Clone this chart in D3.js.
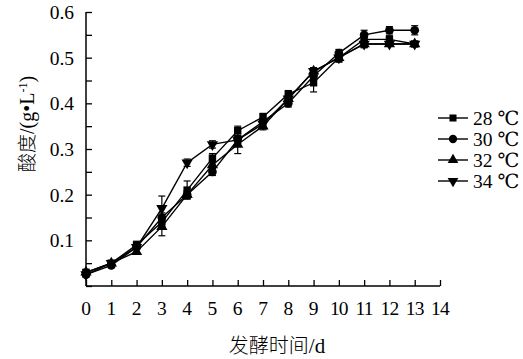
<!DOCTYPE html>
<html><head><meta charset="utf-8">
<script src="https://cdn.jsdelivr.net/npm/d3@7"></script>
<style>body{margin:0;background:#fff}svg{display:block}</style>
</head><body>
<svg id="c" width="523" height="359"></svg>
<script>
const days = [0,1,2,3,4,5,6,7,8,9,10,11,12,13];
const xTicks = [0,1,2,3,4,5,6,7,8,9,10,11,12,13,14];
const yTickLabels = [0.1,0.2,0.3,0.4,0.5,0.6];
const seriesNames = ["28 ℃","30 ℃","32 ℃","34 ℃"];
const t28 = [0.030,0.050,0.090,0.140,0.210,0.280,0.340,0.370,0.420,0.445,0.500,0.540,0.540,0.530];
const t30 = [0.025,0.045,0.085,0.150,0.200,0.250,0.320,0.360,0.400,0.460,0.510,0.550,0.560,0.560];
const t32 = [0.030,0.050,0.075,0.130,0.200,0.265,0.310,0.350,0.410,0.470,0.500,0.530,0.530,0.530];
const t34 = [0.025,0.050,0.085,0.170,0.270,0.310,0.320,0.355,0.410,0.470,0.500,0.530,0.530,0.530];
const e28 = [0.005,0.005,0.008,0.010,0.020,0.010,0.010,0.008,0.008,0.020,0.010,0.008,0.008,0.005];
const e30 = [0.005,0.005,0.005,0.010,0.008,0.008,0.008,0.008,0.008,0.010,0.008,0.010,0.008,0.010];
const e32 = [0.005,0.005,0.005,0.020,0.008,0.008,0.020,0.008,0.008,0.008,0.008,0.008,0.005,0.005];
const e34 = [0.005,0.005,0.005,0.027,0.008,0.008,0.008,0.008,0.008,0.008,0.008,0.008,0.005,0.005];

const series = [
  {name:seriesNames[0], v:t28, e:e28, sym:d3.symbolSquare, rot:0, size:55},
  {name:seriesNames[1], v:t30, e:e30, sym:d3.symbolCircle, rot:0, size:60},
  {name:seriesNames[2], v:t32, e:e32, sym:d3.symbolTriangle, rot:0, size:55},
  {name:seriesNames[3], v:t34, e:e34, sym:d3.symbolTriangle, rot:180, size:55}
];

const svg = d3.select("#c");
const x = d3.scaleLinear().domain([0,14]).range([86,440]);
const y = d3.scaleLinear().domain([0,0.6]).range([286,12]);
const serif = "Liberation Serif, Times New Roman, DejaVu Serif, serif";
const cjk = "Noto Sans CJK SC, sans-serif";
const fs = 19.5;

// axes
const yAxis = svg.append("g").attr("transform","translate(86,0)")
  .call(d3.axisRight(y).tickValues(d3.range(0,0.6001,0.05)).tickSize(6).tickFormat(""));
yAxis.select(".domain").attr("d","M0,286V12").attr("stroke","#000").attr("stroke-width",1.5);
yAxis.selectAll(".tick line").attr("stroke","#000").attr("stroke-width",1.3);

const xAxis = svg.append("g").attr("transform","translate(0,286)")
  .call(d3.axisTop(x).tickValues(xTicks).tickSize(6).tickFormat(""));
xAxis.select(".domain").attr("d","M86,0H440").attr("stroke","#000").attr("stroke-width",1.5);
xAxis.selectAll(".tick line").attr("stroke","#000").attr("stroke-width",1.3);

// tick labels
svg.append("g").selectAll("text").data(yTickLabels).join("text")
  .attr("x",74).attr("y",d=>y(d)+7).attr("text-anchor","end")
  .style("font-family",serif).attr("font-size",fs).text(d=>d.toFixed(1));
svg.append("g").selectAll("text").data(xTicks).join("text")
  .attr("x",d=>x(d)).attr("y",315).attr("text-anchor","middle")
  .style("font-family",serif).attr("font-size",fs).attr("letter-spacing",d=>d>=10?"-0.8px":"0")
  .text(d=>d);

// axis titles
const xl = svg.append("text").attr("x",277).attr("y",353).attr("text-anchor","middle")
  .attr("font-size",20);
xl.append("tspan").style("font-family",cjk).style("font-weight",300).text("发酵时间");
xl.append("tspan").style("font-family",serif).attr("font-size",21).text("/d");
const yl = svg.append("text").attr("transform","translate(34,124) rotate(-90)")
  .attr("text-anchor","middle").attr("font-size",19);
yl.append("tspan").style("font-family",cjk).style("font-weight",300).text("酸度");
yl.append("tspan").style("font-family",serif).attr("font-size",20).text("/(g•L");
yl.append("tspan").attr("dy",-7).attr("font-size",12).style("font-family",serif).text("-1");
yl.append("tspan").attr("dy",7).style("font-family",serif).attr("font-size",20).text(")");

// lines, error bars, markers
const line = d3.line().x((d,i)=>x(days[i])).y(d=>y(d));
series.forEach(s=>{
  const g = svg.append("g");
  g.append("path").attr("d",line(s.v)).attr("fill","none").attr("stroke","#000").attr("stroke-width",1.4);
  days.forEach((dd,i)=>{
    const cx=x(dd), y1=y(s.v[i]+s.e[i]), y2=y(s.v[i]-s.e[i]);
    g.append("line").attr("x1",cx).attr("x2",cx).attr("y1",y1).attr("y2",y2).attr("stroke","#000").attr("stroke-width",1.2);
    g.append("line").attr("x1",cx-3.5).attr("x2",cx+3.5).attr("y1",y1).attr("y2",y1).attr("stroke","#000").attr("stroke-width",1.2);
    g.append("line").attr("x1",cx-3.5).attr("x2",cx+3.5).attr("y1",y2).attr("y2",y2).attr("stroke","#000").attr("stroke-width",1.2);
  });
  g.selectAll("path.m").data(s.v).join("path").attr("class","m")
    .attr("d",d3.symbol().type(s.sym).size(s.size))
    .attr("transform",(d,i)=>`translate(${x(days[i])},${y(d)}) rotate(${s.rot})`)
    .attr("fill","#000");
});

// legend
const lg = svg.append("g");
series.forEach((s,i)=>{
  const ly = 118 + i*21;
  lg.append("line").attr("x1",438).attr("x2",468).attr("y1",ly).attr("y2",ly).attr("stroke","#000").attr("stroke-width",1.4);
  lg.append("path").attr("d",d3.symbol().type(s.sym).size(s.size*0.9)).attr("transform",`translate(453,${ly}) rotate(${s.rot})`).attr("fill","#000");
  lg.append("text").attr("x",473).attr("y",ly+7).style("font-family",serif).attr("font-size",fs).text(s.name);
});
</script>
</body></html>
